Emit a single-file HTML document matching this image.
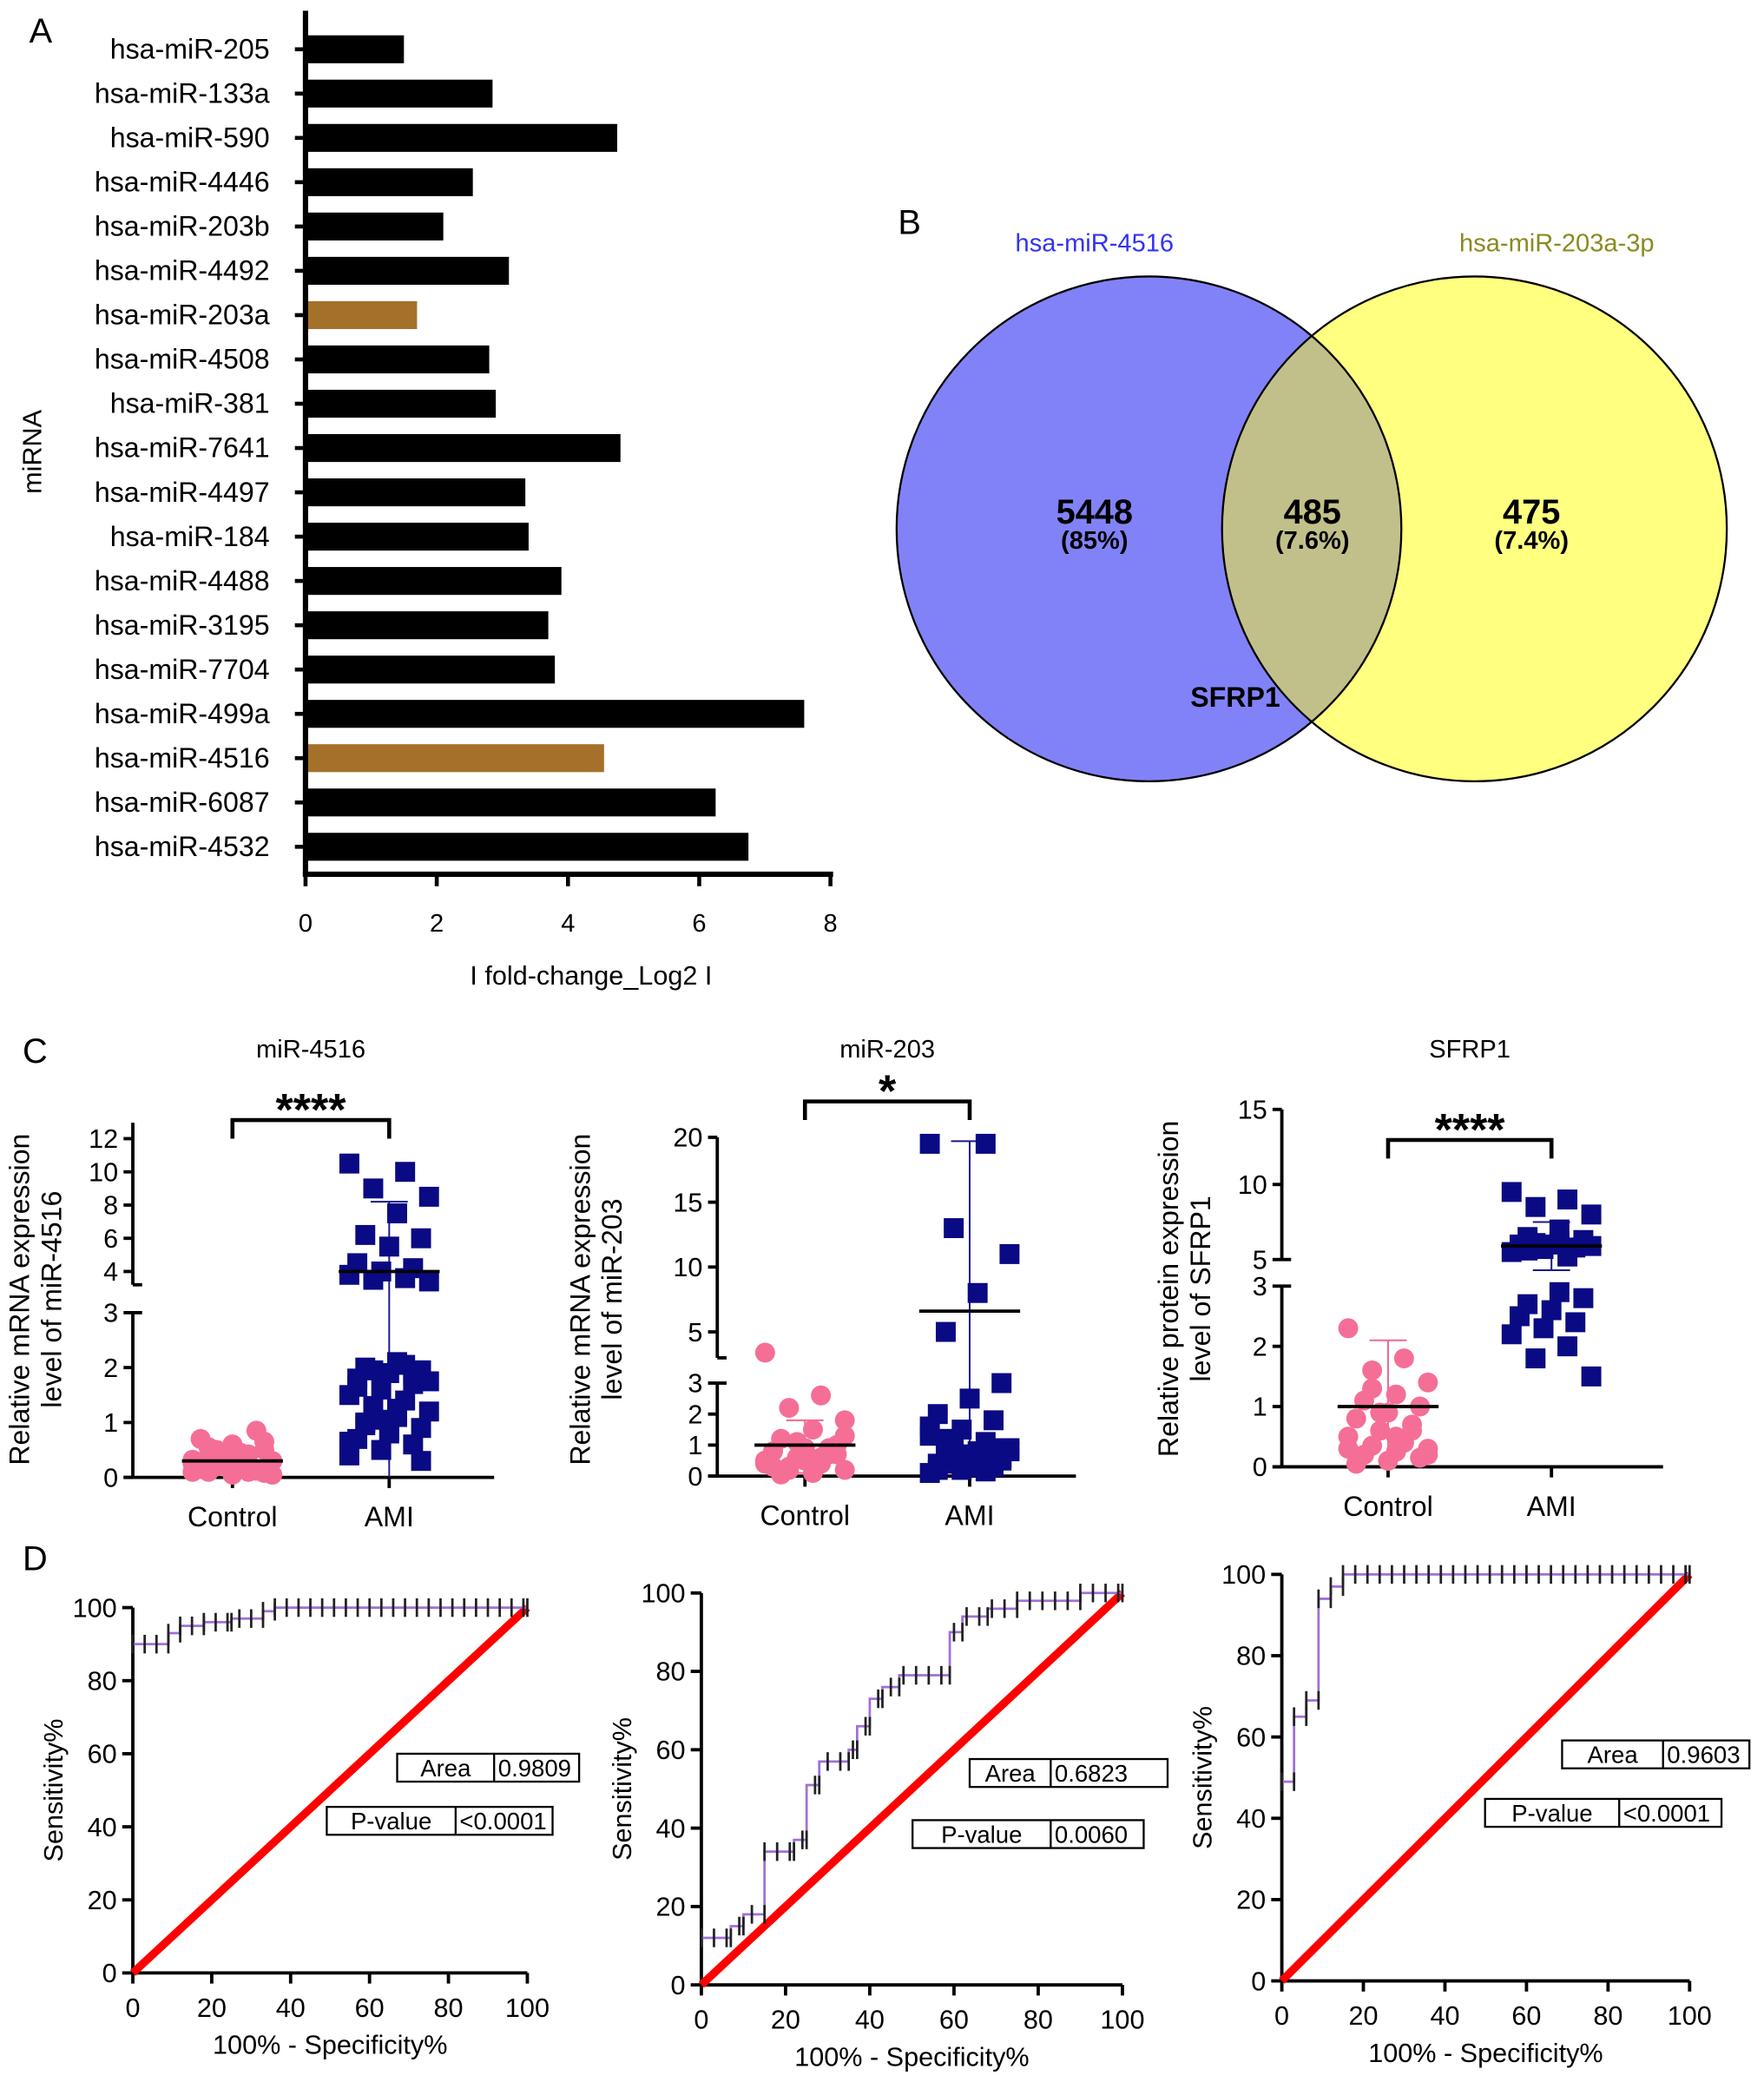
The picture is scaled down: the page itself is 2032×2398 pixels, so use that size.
<!DOCTYPE html>
<html><head><meta charset="utf-8"><style>
html,body{margin:0;padding:0;background:#fff}
svg{display:block}
text{font-family:"Liberation Sans",Arial,sans-serif}
</style></head><body>
<svg id="fig" width="2032" height="2398" viewBox="0 0 1328 1567" xmlns="http://www.w3.org/2000/svg">
<g id="pa"></g>
<g id="pb"></g>
<g id="pc"></g>
<g id="pd"></g>
</svg>
<script>
const NS="http://www.w3.org/2000/svg";
function mk(parent,tag,attrs,txt){const e=document.createElementNS(NS,tag);for(const k in attrs)e.setAttribute(k,attrs[k]);if(txt!==undefined)e.textContent=txt;parent.appendChild(e);return e;}

// ---------- Panel A data ----------
const miRNAs=["hsa-miR-205","hsa-miR-133a","hsa-miR-590","hsa-miR-4446","hsa-miR-203b","hsa-miR-4492","hsa-miR-203a","hsa-miR-4508","hsa-miR-381","hsa-miR-7641","hsa-miR-4497","hsa-miR-184","hsa-miR-4488","hsa-miR-3195","hsa-miR-7704","hsa-miR-499a","hsa-miR-4516","hsa-miR-6087","hsa-miR-4532"];
const foldChange=[1.5,2.85,4.75,2.55,2.1,3.1,1.7,2.8,2.9,4.8,3.35,3.4,3.9,3.7,3.8,7.6,4.55,6.25,6.75];
const highlighted=["hsa-miR-203a","hsa-miR-4516"];
const xTicksA=[0,2,4,6,8];

// ---------- Panel C data ----------
const c1Control=[0.1,0.2,0.3,0.05,0.15,0.4,0.5,0.6,0.7,0.85,0.35,0.25,0.1,0.2,0.3,0.45,0.55,0.65,0.05,0.15,0.12,0.22,0.32,0.42,0.5,0.3,0.2,0.1,0.08,0.6];
const c1AMI=[10.5,10,9,8.5,7.5,6.2,6,5.5,4.5,4.2,4,3.8,3.6,3.5,3.4,2.1,2,1.95,1.9,1.8,1.7,1.6,1.5,1.4,1.3,1.2,1.1,1.0,0.9,0.8,0.7,0.6,0.5,0.4,2.05,1.95,1.75,1.25,0.95,0.3,0.85,1.65,1.85,1.05,0.65];
const c1Mean=[0.3,4.0];
const c1ErrTop=[0.5,8.2];
const c1ErrBot=[0,0];
const c2Control=[3.4,2.6,2.2,1.8,1.5,1.2,1.0,0.9,0.8,0.7,0.6,0.5,0.4,0.3,0.2,0.1,0.05,0.7,0.5,0.3,0.9,1.1,0.4,0.6,0.2,1.3];
const c2AMI=[19.5,19.5,13,11,8,5,3,2.5,2,1.8,1.5,1.3,1.1,1.0,0.9,0.8,0.7,0.6,0.5,0.4,0.3,0.2,0.1,0.6,0.4,0.8,0.3,1.2,0.5,0.7,0.2,0.9,0.4,1.6,0.15];
const c2Mean=[1.0,6.6];
const c2ErrTop=[1.8,19.7];
const c2ErrBot=[0.1,0];
const c3Control=[2.3,1.8,1.6,1.4,1.2,1.1,1.0,0.9,0.8,0.7,0.6,0.5,0.4,0.35,0.3,0.25,0.2,0.15,0.1,0.05,0.6,0.9,0.3,0.4,1.3,0.2,0.5];
const c3AMI=[9.5,9,8.5,8,7,6.5,6.3,6,6,5.8,5.7,5.5,5.2,6.1,5.9,6.2,5.6,2.8,2.6,2.5,2.4,2.3,2.2,2,1.8,1.5,2.9,2.7];
const c3Mean=[1.0,5.9];
const c3ErrTop=[2.1,7.5];
const c3ErrBot=[0,4.2];

// ---------- Panel D data ----------
const roc1X=[0,9,9,12,12,18,18,25,25,33,33,36,36,100];
const roc1Y=[90,90,93,93,95,95,96,96,97,97,99,99,100,100];
const roc2X=[0,7,7,10,10,15,15,22,22,25,25,28,28,35,35,37,37,40,40,43,43,47,47,59,59,62,62,68,68,75,75,90,90,100];
const roc2Y=[12,12,15,15,18,18,34,34,37,37,51,51,57,57,60,60,66,66,73,73,76,76,79,79,90,90,94,94,96,96,98,98,100,100];
const roc3X=[0,3,3,6,6,9,9,12,12,15,15,100];
const roc3Y=[49,49,65,65,69,69,94,94,97,97,100,100];
const rocTicks=[0,20,40,60,80,100];
const areaVals=["0.9809","0.6823","0.9603"];
const pVals=["<0.0001","0.0060","<0.0001"];

// ---------- Panel A ----------
(function(){
 const g=document.getElementById('pa');
 const x0=230,xs=49.4,yTop=37,step=33.35,bh=21,axY=658;
 const X=v=>x0+v*xs;
 const t=mk(g,'text',{x:22,y:32,'font-size':26},'A');
 
 miRNAs.forEach((m,i)=>{
  const cy=yTop+i*step;
  const r=mk(g,'rect',{x:X(0),y:cy-bh/2,width:X(foldChange[i])-X(0),height:bh,fill:highlighted.includes(m)?'#a5702a':'#000'});
  
  mk(g,'line',{x1:222,x2:230,y1:cy,y2:cy,stroke:'#000','stroke-width':3});
  const l=mk(g,'text',{x:203,y:cy+7,'font-size':21,'text-anchor':'end'},m);
  
 });
 mk(g,'line',{x1:230,x2:230,y1:8,y2:axY+1.5,stroke:'#000','stroke-width':4});
 mk(g,'line',{x1:228,x2:X(8)+2,y1:axY,y2:axY,stroke:'#000','stroke-width':4});
 xTicksA.forEach(v=>{
  mk(g,'line',{x1:X(v),x2:X(v),y1:axY,y2:axY+9,stroke:'#000','stroke-width':3});
  const l=mk(g,'text',{x:X(v),y:701,'font-size':19,'text-anchor':'middle'},v);
  
 });
 const xl=mk(g,'text',{x:445,y:741,'font-size':20,'text-anchor':'middle'},'I fold-change_Log2 I');
 
 const yl=mk(g,'text',{x:0,y:0,'font-size':20,'text-anchor':'middle',transform:'translate(31,340) rotate(-90)'},'miRNA');
 
})();

// ---------- Panel B ----------
(function(){
 const g=document.getElementById('pb');
 const t=mk(g,'text',{x:676,y:176,'font-size':26},'B');
 const defs=mk(g,'defs',{});
 const cp=mk(defs,'clipPath',{id:'clipBlue'});mk(cp,'circle',{cx:865,cy:398,r:190});
 const c1=mk(g,'circle',{cx:865,cy:398,r:190,fill:'#8282f8'});
 const c2=mk(g,'circle',{cx:1110,cy:398,r:190,fill:'#ffff80'});
 const ov=mk(g,'circle',{cx:1110,cy:398,r:190,fill:'#c2c08a','clip-path':'url(#clipBlue)'});
 mk(g,'circle',{cx:865,cy:398,r:190,fill:'none',stroke:'#000','stroke-width':1.5});
 mk(g,'circle',{cx:1110,cy:398,r:190,fill:'none',stroke:'#000','stroke-width':1.5});
 const a=mk(g,'text',{x:824,y:189,'font-size':19,fill:'#3333ee','text-anchor':'middle'},'hsa-miR-4516');
 const b=mk(g,'text',{x:1172,y:189,'font-size':19,fill:'#8a8a20','text-anchor':'middle'},'hsa-miR-203a-3p');
 [[824,'5448','(85%)'],[988,'485','(7.6%)'],[1153,'475','(7.4%)']].forEach(d=>{
  const n=mk(g,'text',{x:d[0],y:394,'font-size':26,'font-weight':'bold','text-anchor':'middle'},d[1]);
  const p=mk(g,'text',{x:d[0],y:413,'font-size':19,'font-weight':'bold','text-anchor':'middle'},d[2]);
 });
 const s=mk(g,'text',{x:930,y:532,'font-size':21,'font-weight':'bold','text-anchor':'middle'},'SFRP1');
})();

// ---------- Panel C ----------
function scatter(cfg){
 const g=document.getElementById('pc');
 const sub=mk(g,'g',{});
 const Y=v=>{
  if(v<=cfg.lowMax) return cfg.y0-(v/cfg.lowMax)*(cfg.y0-cfg.yLowTop);
  if(v<cfg.upMin) return cfg.yLowTop-(v-cfg.lowMax)/(cfg.upMin-cfg.lowMax)*(cfg.yLowTop-cfg.yUpBot);
  return cfg.yUpBot-(v-cfg.upMin)/(cfg.upMax-cfg.upMin)*(cfg.yUpBot-cfg.yUpTop);
 };
 const ax=cfg.ax;
 mk(sub,'line',{x1:ax,x2:ax,y1:cfg.y0,y2:cfg.yLowTop,stroke:'#000','stroke-width':2.5});
 mk(sub,'line',{x1:ax,x2:ax,y1:cfg.yUpBot,y2:cfg.yTop,stroke:'#000','stroke-width':2.5});
 mk(sub,'line',{x1:ax,x2:ax+7,y1:cfg.yLowTop,y2:cfg.yLowTop,stroke:'#000','stroke-width':2.5});
 mk(sub,'line',{x1:ax,x2:ax+7,y1:cfg.yUpBot,y2:cfg.yUpBot,stroke:'#000','stroke-width':2.5});
 mk(sub,'line',{x1:ax-7,x2:cfg.xEnd,y1:cfg.y0,y2:cfg.y0,stroke:'#000','stroke-width':2.5});
 cfg.ticks.forEach(v=>{
  mk(sub,'line',{x1:ax-7,x2:ax,y1:Y(v),y2:Y(v),stroke:'#000','stroke-width':2.5});
  const l=mk(sub,'text',{x:ax-11,y:Y(v)+7,'font-size':20,'text-anchor':'end'},v);
 });
 [[cfg.cx,'Control'],[cfg.ax2,'AMI']].forEach(d=>{
  mk(sub,'line',{x1:d[0],x2:d[0],y1:cfg.y0,y2:cfg.y0+8,stroke:'#000','stroke-width':2.5});
  const l=mk(sub,'text',{x:d[0],y:cfg.y0+37,'font-size':21,'text-anchor':'middle'},d[1]);
 });
 const tt=mk(sub,'text',{x:(cfg.cx+cfg.ax2)/2,y:796,'font-size':19,'text-anchor':'middle'},cfg.title);
 const yl=mk(sub,'text',{x:0,y:0,'font-size':21,'text-anchor':'middle',transform:`translate(${cfg.ylx},${cfg.yly}) rotate(-90)`});
 
 mk(yl,'tspan',{x:0,dy:0},cfg.yl1);mk(yl,'tspan',{x:0,dy:24},cfg.yl2);
 mk(sub,'path',{d:`M${cfg.cx} ${cfg.brY+14} V${cfg.brY} H${cfg.ax2} V${cfg.brY+14}`,fill:'none',stroke:'#000','stroke-width':3});
 const st=mk(sub,'text',{x:(cfg.cx+cfg.ax2)/2,y:cfg.brY+4,'font-size':34,'font-weight':'bold','text-anchor':'middle'},cfg.stars);
 [[cfg.cx,'#f06890',0],[cfg.ax2,'#1a1a8a',1]].forEach(d=>{
  const hi=cfg.errTop[d[2]],lo=cfg.errBot[d[2]];
  mk(sub,'line',{x1:d[0],x2:d[0],y1:Y(lo),y2:Y(hi),stroke:d[1],'stroke-width':1.3});
  mk(sub,'line',{x1:d[0]-14,x2:d[0]+14,y1:Y(hi),y2:Y(hi),stroke:d[1],'stroke-width':1.3});
  if(lo>0) mk(sub,'line',{x1:d[0]-14,x2:d[0]+14,y1:Y(lo),y2:Y(lo),stroke:d[1],'stroke-width':1.3});
 });
 pts(sub,cfg.ctrl,cfg.cx,Y,'circle','#f56e96');
 pts(sub,cfg.ami,cfg.ax2,Y,'rect','#0a0a84');
 [[cfg.cx,0],[cfg.ax2,1]].forEach(d=>{
  const m=cfg.mean[d[1]];
  const ml=mk(sub,'line',{x1:d[0]-38,x2:d[0]+38,y1:Y(m),y2:Y(m),stroke:'#000','stroke-width':2.5});
 });
}
function pts(sub,vals,cx,Y,shape,col){
 vals.forEach((v,i)=>{
  const off=((i*7)%11-5)*6;
  let e;
  if(shape==='circle') e=mk(sub,'circle',{cx:cx+off,cy:Y(v),r:7.5,fill:col});
  else e=mk(sub,'rect',{x:cx+off-7.5,y:Y(v)-7.5,width:15,height:15,fill:col});
  
  
 });
}
(function(){const t=mk(document.getElementById('pc'),'text',{x:17,y:800,'font-size':26},'C');})();
scatter({name:'scatter-mir4516',title:'miR-4516',ax:100,xEnd:372,cx:175,ax2:293,y0:1112,yLowTop:988,lowMax:3,yUpBot:967,upMin:3.2,upMax:12,yUpTop:857,yTop:845,ticks:[0,1,2,3,4,6,8,10,12],ctrl:c1Control,ami:c1AMI,mean:c1Mean,errTop:c1ErrTop,errBot:c1ErrBot,brY:843,stars:'****',ylx:22,yly:978,yl1:'Relative mRNA expression',yl2:'level of miR-4516'});
scatter({name:'scatter-mir203',title:'miR-203',ax:540,xEnd:810,cx:606,ax2:730,y0:1111,yLowTop:1041,lowMax:3,yUpBot:1022,upMin:3,upMax:20,yUpTop:856,yTop:856,ticks:[0,1,2,3,5,10,15,20],ctrl:c2Control,ami:c2AMI,mean:c2Mean,errTop:c2ErrTop,errBot:c2ErrBot,brY:829,stars:'*',ylx:444,yly:978,yl1:'Relative mRNA expression',yl2:'level of miR-203'});
scatter({name:'scatter-sfrp1',title:'SFRP1',ax:965,xEnd:1252,cx:1045,ax2:1168,y0:1104,yLowTop:968,lowMax:3,yUpBot:948,upMin:5,upMax:15,yUpTop:835,yTop:835,ticks:[0,1,2,3,5,10,15],ctrl:c3Control,ami:c3AMI,mean:c3Mean,errTop:c3ErrTop,errBot:c3ErrBot,brY:858,stars:'****',ylx:887,yly:970,yl1:'Relative protein expression',yl2:'level of SFRP1'});

// ---------- Panel D ----------
function roc(cfg){
 const g=document.getElementById('pd');
 const sub=mk(g,'g',{});
 const X=v=>cfg.x0+v/100*(cfg.x1-cfg.x0), Y=v=>cfg.y0-v/100*(cfg.y0-cfg.y1);
 mk(sub,'line',{x1:X(0),x2:X(0),y1:Y(0),y2:Y(100),stroke:'#000','stroke-width':2.5});
 mk(sub,'line',{x1:X(0),x2:X(100),y1:Y(0),y2:Y(0),stroke:'#000','stroke-width':2.5});
 rocTicks.forEach(v=>{
  mk(sub,'line',{x1:X(0)-8,x2:X(0),y1:Y(v),y2:Y(v),stroke:'#000','stroke-width':2.5});
  mk(sub,'line',{x1:X(v),x2:X(v),y1:Y(0),y2:Y(0)+8,stroke:'#000','stroke-width':2.5});
  const a=mk(sub,'text',{x:X(0)-12,y:Y(v)+7,'font-size':20,'text-anchor':'end'},v);
  const b=mk(sub,'text',{x:X(v),y:Y(0)+33,'font-size':20,'text-anchor':'middle'},v);
 });
 const xt=mk(sub,'text',{x:X(50),y:Y(0)+61,'font-size':20,'text-anchor':'middle'},'100% - Specificity%');
 const yt=mk(sub,'text',{x:0,y:0,'font-size':20,'text-anchor':'middle',transform:`translate(${X(0)-53},${Y(50)}) rotate(-90)`},'Sensitivity%');
 const diag=mk(sub,'line',{x1:X(0),y1:Y(0),x2:X(100),y2:Y(100),stroke:'#f00','stroke-width':6});
 let d='';cfg.xs.forEach((x,i)=>{d+=(i?'L':'M')+X(x)+' '+Y(cfg.ys[i])+' ';});
 const p=mk(sub,'path',{d:d,fill:'none',stroke:'#a070d8','stroke-width':1.8});
 cfg.xs.forEach((x,i)=>{
  if(i>0 && cfg.xs[i-1]===x) return;
  mk(sub,'line',{x1:X(x),x2:X(x),y1:Y(cfg.ys[i])-7,y2:Y(cfg.ys[i])+7,stroke:'#222','stroke-width':1.8});
 });
 for(let x=3;x<=100;x+=3){
  let yv=cfg.ys[0];for(let i=0;i<cfg.xs.length;i++){if(cfg.xs[i]<=x)yv=cfg.ys[i];}
  mk(sub,'line',{x1:X(x),x2:X(x),y1:Y(yv)-7,y2:Y(yv)+7,stroke:'#222','stroke-width':1.8});
 }
 [[cfg.ab,'Area',areaVals[cfg.k]],[cfg.pb,'P-value',pVals[cfg.k]]].forEach((b,j)=>{
  const [bx,by,w1,w2]=b[0];
  const bg=mk(sub,'g',{});
  mk(bg,'rect',{x:bx,y:by,width:w1+w2,height:21,fill:'#fff',stroke:'#000','stroke-width':1.5});
  mk(bg,'line',{x1:bx+w1,x2:bx+w1,y1:by,y2:by+21,stroke:'#000','stroke-width':1.5});
  mk(bg,'text',{x:bx+w1/2,y:by+17,'font-size':18,'text-anchor':'middle'},b[1]);
  mk(bg,'text',{x:bx+w1+3,y:by+17,'font-size':18},b[2]);
 });
}
(function(){const t=mk(document.getElementById('pd'),'text',{x:17,y:1182,'font-size':26},'D');})();
roc({name:'roc-mir4516',k:0,x0:100,x1:397,y0:1485,y1:1210,xs:roc1X,ys:roc1Y,ab:[299,1320,73,64],pb:[246,1360,97,73]});
roc({name:'roc-mir203',k:1,x0:528,x1:845,y0:1494,y1:1199,xs:roc2X,ys:roc2Y,ab:[730,1324,61,88],pb:[687,1370,104,70]});
roc({name:'roc-sfrp1',k:2,x0:965,x1:1272,y0:1491,y1:1185,xs:roc3X,ys:roc3Y,ab:[1176,1310,76,65],pb:[1118,1354,101,77]});
</script>
</body></html>
